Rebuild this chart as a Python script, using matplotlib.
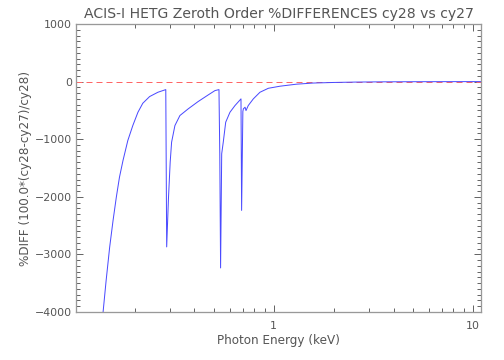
import matplotlib
matplotlib.use("Agg")
import matplotlib.pyplot as plt
from matplotlib.ticker import MultipleLocator, LogLocator, NullFormatter

# photon energy (keV) and %diff values
energy = [0.139, 0.144, 0.150, 0.156, 0.162, 0.168, 0.175, 0.185, 0.196, 0.208,
          0.220, 0.238, 0.262, 0.287, 0.290, 0.296, 0.302, 0.307, 0.319, 0.338,
          0.372, 0.417, 0.469, 0.507, 0.531, 0.536, 0.541, 0.548, 0.558, 0.574,
          0.603, 0.639, 0.685, 0.690, 0.700, 0.704, 0.718, 0.726, 0.745, 0.790,
          0.853, 0.940, 1.075, 1.30, 1.58, 2.0, 2.6, 3.5, 5.0, 7.0, 11.0]
pct_diff = [-3998, -3449, -2872, -2409, -2005, -1659, -1369, -1023, -763, -532,
            -376, -260, -185, -139, -2870, -2033, -1398, -1052, -763, -589,
            -473, -347, -231, -156, -139, -1250, -3235, -1253, -1052, -705,
            -532, -416, -300, -2236, -520, -473, -445, -503, -416, -300,
            -185, -116, -80, -45, -25, -15, -8, -4, -2, -1, 0]

x_ticks = [1, 10]
x_tick_labels = ["1", "10"]

txt = "#555555"
plt.rcParams['font.family'] = ['DejaVu Sans']

fig = plt.figure(figsize=(7, 5), dpi=72)
ax = fig.add_axes([76 / 504, 48 / 360, 405 / 504, 288 / 360])

ax.axhline(0, color="#ff6666", lw=1, dashes=(6, 4))
ax.plot(energy, pct_diff, color="#4a4aff", lw=1)

ax.set_xscale("log")
ax.set_xlim(0.1016, 11.0)
ax.set_ylim(-4000, 1000)

ax.set_xticks(x_ticks)
ax.set_xticklabels(x_tick_labels)
ax.xaxis.set_minor_locator(LogLocator(base=10, subs=range(2, 10)))
ax.xaxis.set_minor_formatter(NullFormatter())
ax.yaxis.set_major_locator(MultipleLocator(1000))
ax.yaxis.set_minor_locator(MultipleLocator(100))

ax.tick_params(which="both", direction="in", top=True, right=True,
               colors="#666666", labelcolor=txt, labelsize=11)
ax.tick_params(which="major", length=7, width=1)
ax.tick_params(which="minor", length=4, width=1)
ax.tick_params(axis="x", which="major", pad=9)
ax.tick_params(axis="y", which="major", pad=4)

for s in ax.spines.values():
    s.set_color("#999999")
    s.set_linewidth(1.3)

ax.set_title("ACIS-I HETG Zeroth Order %DIFFERENCES cy28 vs cy27",
             fontsize=14, color=txt, pad=6)
ax.set_xlabel("Photon Energy (keV)", fontsize=12, color=txt, labelpad=3)
ax.set_ylabel("%DIFF (100.0*(cy28-cy27)/cy28)", fontsize=12, color=txt, labelpad=3)

fig.savefig("out.png", dpi=72)
